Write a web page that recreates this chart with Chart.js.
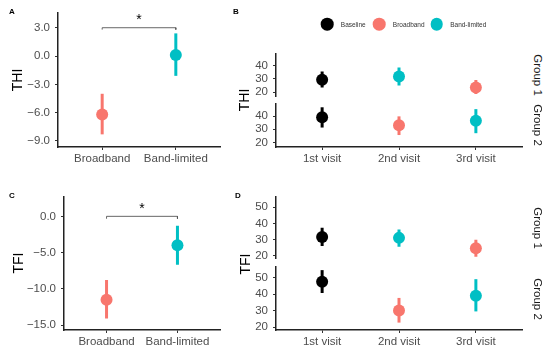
<!DOCTYPE html>
<html>
<head>
<meta charset="utf-8">
<script src="https://cdn.jsdelivr.net/npm/chart.js@4"></script>
<style>
  body { margin: 0; background: #fff; }
  #fig { position: relative; width: 550px; height: 355px; overflow: hidden; background: #fff;
         font-family: "Liberation Sans", Arial, sans-serif; }
  canvas { position: absolute; }
  .lbl { position: absolute; white-space: nowrap; line-height: 1; }
  .tag { font-size: 8px; font-weight: bold; color: #000; }
  .ytitle { font-size: 14px; color: #000; transform: translate(-50%, -50%) rotate(-90deg); }
  .strip { font-size: 11.5px; color: #1a1a1a; transform: translate(-50%, -50%) rotate(90deg); }
  .key { font-size: 6.5px; color: #333; transform: translateY(-50%); }
  .dot { position: absolute; width: 12.6px; height: 12.6px; border-radius: 50%; transform: translate(-50%, -50%); }
</style>
</head>
<body>
<div id="fig">
  <canvas id="cA" width="226" height="172" style="left:0;top:0"></canvas>
  <canvas id="cB1" width="302" height="70" style="left:226px;top:40px"></canvas>
  <canvas id="cB2" width="302" height="81" style="left:226px;top:91px"></canvas>
  <canvas id="cC" width="226" height="172" style="left:0;top:183px"></canvas>
  <canvas id="cD1" width="302" height="88" style="left:226px;top:184px"></canvas>
  <canvas id="cD2" width="302" height="101" style="left:226px;top:254px"></canvas>

  <div class="lbl tag" style="left:9px;top:8px">A</div>
  <div class="lbl tag" style="left:233px;top:8px">B</div>
  <div class="lbl tag" style="left:9px;top:192px">C</div>
  <div class="lbl tag" style="left:235px;top:192px">D</div>

  <div class="lbl ytitle" style="left:17px;top:80px">THI</div>
  <div class="lbl ytitle" style="left:17.5px;top:263px">TFI</div>
  <div class="lbl ytitle" style="left:243.5px;top:100px">THI</div>
  <div class="lbl ytitle" style="left:245px;top:263.5px">TFI</div>

  <div class="lbl strip" style="left:537px;top:75px">Group 1</div>
  <div class="lbl strip" style="left:537px;top:125px">Group 2</div>
  <div class="lbl strip" style="left:537px;top:227.5px">Group 1</div>
  <div class="lbl strip" style="left:537px;top:298.5px">Group 2</div>

  <div id="legend"></div>
</div>

<script>
// panels A and C: change scores per condition
const conditions = ['Broadband', 'Band-limited'];
const thiChange = [-6.2, 0.1];
const thiChangeLo = [-8.3, -2.1];
const thiChangeHi = [-4.0, 2.4];
const thiChangeTicks = [-9, -6, -3, 0, 3];

const tfiChange = [-11.5, -4.0];
const tfiChangeLo = [-14.1, -6.7];
const tfiChangeHi = [-8.8, -1.3];
const tfiChangeTicks = [-15, -10, -5, 0];

// panels B and D: scores per visit, split by group
const visits = ['1st visit', '2nd visit', '3rd visit'];
const group1Cond = ['Baseline', 'Band-limited', 'Broadband'];
const group2Cond = ['Baseline', 'Broadband', 'Band-limited'];

const thiG1 = [29.2, 31.7, 23.5];
const thiG1Lo = [23.5, 25.0, 18.5];
const thiG1Hi = [35.5, 38.5, 29.0];
const thiG2 = [39.2, 33.1, 36.5];
const thiG2Lo = [31.3, 25.6, 27.0];
const thiG2Hi = [46.7, 39.8, 45.3];
const thiVisitTicks = [20, 30, 40];

const tfiG1 = [31.6, 31.0, 24.5];
const tfiG1Lo = [25.9, 25.5, 19.2];
const tfiG1Hi = [37.3, 36.2, 29.8];
const tfiG2 = [47.7, 30.2, 39.1];
const tfiG2Lo = [40.8, 22.8, 29.6];
const tfiG2Hi = [54.7, 37.8, 49.2];
const tfiVisitTicks = [20, 30, 40, 50];

const legendItems = ['Baseline', 'Broadband', 'Band-limited'];

const condColor = {
    'Baseline': '#000000',
    'Broadband': '#F8766D',
    'Band-limited': '#00BFC4'
};

const FONT = '"Liberation Sans", Arial, sans-serif';

// draws the significance star above the bracket
const starPlugin = {
    id: 'star',
    afterDatasetsDraw(chart, args, opts) {
        if (opts.y === undefined) return;
        const ctx = chart.ctx;
        const x = chart.scales.x.getPixelForValue(1.5);
        const y = chart.scales.y.getPixelForValue(opts.y);
        ctx.save();
        ctx.fillStyle = '#000';
        ctx.font = '14px ' + FONT;
        ctx.textAlign = 'center';
        ctx.textBaseline = 'alphabetic';
        ctx.fillText('*', x, y - 3.5);
        ctx.restore();
    }
};

function fmtChange(v) {
    return v.toFixed(1).replace('-', '\u2212');
}

function makeChart(id, cfg) {
    const datasets = [];
    cfg.mean.forEach((m, i) => {
        const col = condColor[cfg.cond[i]];
        datasets.push({
            type: 'line',
            data: [{ x: i + 1, y: cfg.lo[i] }, { x: i + 1, y: cfg.hi[i] }],
            borderColor: col,
            borderWidth: 3,
            pointRadius: 0,
            order: 2
        });
    });
    datasets.push({
        type: 'scatter',
        data: cfg.mean.map((m, i) => ({ x: i + 1, y: m })),
        backgroundColor: cfg.cond.map(c => condColor[c]),
        pointRadius: 6,
        borderWidth: 0,
        order: 1
    });
    if (cfg.bracket !== undefined) {
        const b = cfg.bracket, d = cfg.drop;
        datasets.push({
            type: 'line',
            data: [{ x: 1, y: b - d }, { x: 1, y: b }, { x: 2, y: b }, { x: 2, y: b - d }],
            borderColor: '#555',
            borderWidth: 0.9,
            pointRadius: 0,
            clip: false,
            order: 3
        });
    }
    const n = cfg.cats.length;
    const tickGrid = {
        display: true,
        drawOnChartArea: false,
        drawTicks: true,
        tickLength: 3,
        color: '#333',
        lineWidth: 1
    };
    new Chart(document.getElementById(id), {
        data: { datasets: datasets },
        plugins: [starPlugin],
        options: {
            responsive: false,
            animation: false,
            events: [],
            layout: { padding: cfg.pad },
            plugins: {
                legend: { display: false },
                tooltip: { enabled: false },
                star: { y: cfg.bracket }
            },
            scales: {
                x: {
                    type: 'linear',
                    display: cfg.showX,
                    min: 0.4,
                    max: n + 0.6,
                    afterBuildTicks: s => { s.ticks = cfg.cats.map((c, i) => ({ value: i + 1 })); },
                    afterFit: s => { if (cfg.showX) s.height = 25; },
                    grid: tickGrid,
                    border: { display: true, color: '#222', width: 1.5 },
                    ticks: {
                        autoSkip: false,
                        maxRotation: 0,
                        padding: 2,
                        color: '#4d4d4d',
                        font: { family: FONT, size: 11.5 },
                        callback: v => cfg.cats[Math.round(v) - 1]
                    }
                },
                y: {
                    type: 'linear',
                    min: cfg.yMin,
                    max: cfg.yMax,
                    afterBuildTicks: s => { s.ticks = cfg.yTicks.map(v => ({ value: v })); },
                    afterFit: s => { s.width = cfg.yWidth; },
                    grid: tickGrid,
                    border: { display: true, color: '#222', width: 1.5 },
                    ticks: {
                        padding: 5,
                        color: '#4d4d4d',
                        font: { family: FONT, size: 11.5 },
                        callback: cfg.fmt || (v => String(v))
                    }
                }
            }
        }
    });
}

makeChart('cA', {
    cats: conditions, cond: conditions, mean: thiChange, lo: thiChangeLo, hi: thiChangeHi,
    yMin: -9.64, yMax: 4.56, yTicks: thiChangeTicks, fmt: fmtChange, yWidth: 58,
    showX: true, pad: { top: 13, right: 3, left: 0, bottom: 0 }, bracket: 3.0, drop: 0.2
});
makeChart('cC', {
    cats: conditions, cond: conditions, mean: tfiChange, lo: tfiChangeLo, hi: tfiChangeHi,
    yMin: -15.69, yMax: 2.71, yTicks: tfiChangeTicks, fmt: fmtChange, yWidth: 64,
    showX: true, pad: { top: 13.7, right: 2, left: 0, bottom: 0 }, bracket: 0.0, drop: 0.33
});
makeChart('cB1', {
    cats: visits, cond: group1Cond, mean: thiG1, lo: thiG1Lo, hi: thiG1Hi,
    yMin: 16.5, yMax: 49.2, yTicks: thiVisitTicks, yWidth: 50,
    showX: false, pad: { top: 13.3, right: 2, left: 0, bottom: 13.3 }
});
makeChart('cB2', {
    cats: visits, cond: group2Cond, mean: thiG2, lo: thiG2Lo, hi: thiG2Hi,
    yMin: 16.5, yMax: 49.2, yTicks: thiVisitTicks, yWidth: 50,
    showX: true, pad: { top: 13, right: 2, left: 0, bottom: 0 }
});
makeChart('cD1', {
    cats: visits, cond: group1Cond, mean: tfiG1, lo: tfiG1Lo, hi: tfiG1Hi,
    yMin: 18.3, yMax: 56.6, yTicks: tfiVisitTicks, yWidth: 50,
    showX: false, pad: { top: 12.7, right: 2, left: 0, bottom: 13.7 }
});
makeChart('cD2', {
    cats: visits, cond: group2Cond, mean: tfiG2, lo: tfiG2Lo, hi: tfiG2Hi,
    yMin: 18.3, yMax: 56.6, yTicks: tfiVisitTicks, yWidth: 50,
    showX: true, pad: { top: 13, right: 2, left: 0, bottom: 0 }
});

// legend for panel B
const legendPos = [327.3, 379.3, 436.7];
const legendEl = document.getElementById('legend');
legendItems.forEach((name, i) => {
    const dot = document.createElement('div');
    dot.className = 'dot';
    dot.style.left = legendPos[i] + 'px';
    dot.style.top = '24.3px';
    dot.style.background = condColor[name];
    legendEl.appendChild(dot);
    const txt = document.createElement('div');
    txt.className = 'lbl key';
    txt.style.left = (legendPos[i] + 13.5) + 'px';
    txt.style.top = '24.5px';
    txt.textContent = name;
    legendEl.appendChild(txt);
});
</script>
</body>
</html>
